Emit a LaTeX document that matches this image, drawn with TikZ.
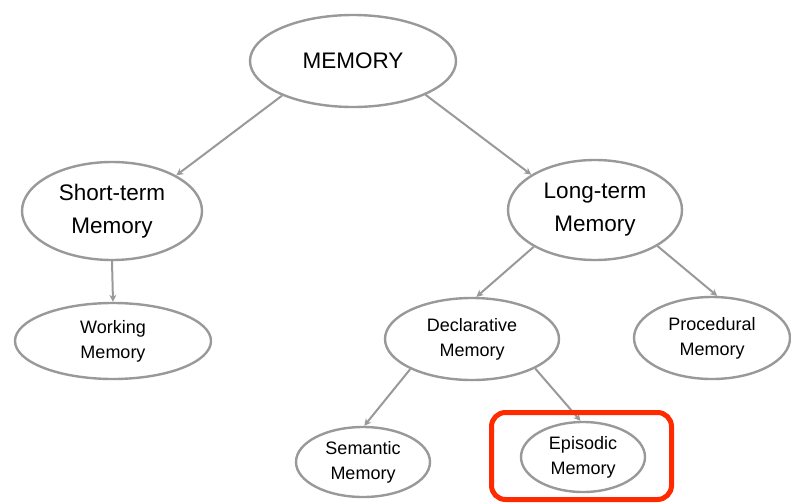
\documentclass[tikz,border=0pt]{standalone}
\usepackage{fontspec}
\setmainfont{Liberation Sans}
\usetikzlibrary{shapes.geometric,arrows.meta}
\definecolor{outline}{HTML}{999999}
\definecolor{highlight}{HTML}{FF2A00}
\tikzset{
    mem/.style={ellipse, draw=outline, line width=2.4pt, inner sep=0pt, align=center},
    big/.style={font=\fontsize{22.5}{33}\selectfont},
    small/.style={font=\fontsize{18}{25}\selectfont},
    link/.style={draw=outline, line width=2pt, -{Stealth[length=7pt,width=7pt]}}
}
\begin{document}
\begin{tikzpicture}[x=1pt,y=-1pt]
    \useasboundingbox (0,0) rectangle (791,503);
    % the memory tree
    \node[mem, big, minimum width=206, minimum height=92] (memory) at (353,61) {MEMORY};
    \node[mem, big, minimum width=180, minimum height=98] (short) at (112,211) {Short-term\\Memory};
    \node[mem, big, minimum width=174, minimum height=100] (long) at (595,210) {Long-term\\Memory};
    \node[mem, small, minimum width=196, minimum height=76] (working) at (113,341) {Working\\Memory};
    \node[mem, small, minimum width=174, minimum height=82] (declarative) at (472,339) {Declarative\\Memory};
    \node[mem, small, minimum width=156, minimum height=82] (procedural) at (712,338) {Procedural\\Memory};
    \node[mem, small, minimum width=134, minimum height=70] (semantic) at (363,462) {Semantic\\Memory};
    \node[mem, small, minimum width=124, minimum height=70] (episodic) at (583,457) {Episodic\\Memory};
    \draw[link] (memory.206) -- (short.29);
    \draw[link] (memory.335) -- (long.151);
    \draw[link] (short.south) -- (working.north);
    \draw[link] (long.211) -- (declarative.84);
    \draw[link] (long.330) -- (procedural.83);
    \draw[link] (declarative.206) -- (semantic.88);
    \draw[link] (declarative.335) -- (episodic.94);
    % highlight
    \draw[highlight, line width=5pt, rounded corners=14pt] (491.5,412.5) rectangle (671.5,499.5);
\end{tikzpicture}
\end{document}
